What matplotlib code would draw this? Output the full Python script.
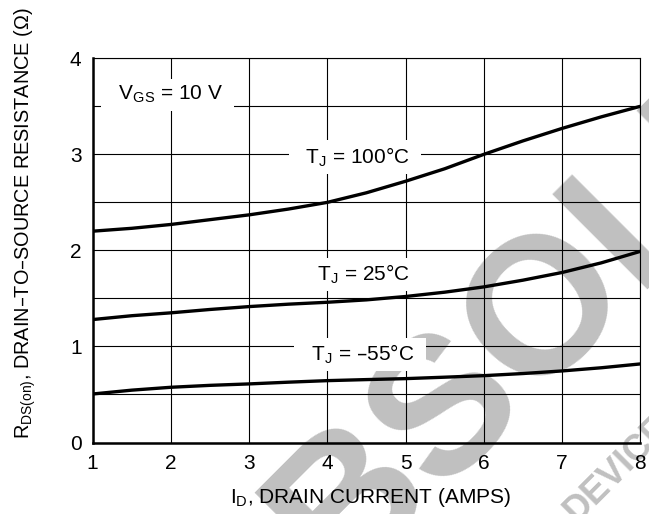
import numpy as np
import matplotlib

matplotlib.use("Agg")
import matplotlib.pyplot as plt
from matplotlib.font_manager import FontProperties
from matplotlib.textpath import TextPath

plt.rcParams['font.family'] = ['Liberation Sans', 'DejaVu Sans']
plt.rcParams['mathtext.default'] = 'regular'

# drain current (A) and on-resistance (ohm)
i_d = [1, 1.5, 2, 2.5, 3, 3.5, 4, 4.5, 5, 5.5, 6, 6.5, 7, 7.5, 8]
r_100c = [2.20, 2.23, 2.27, 2.32, 2.37, 2.43, 2.50, 2.60, 2.72, 2.85, 3.00, 3.14, 3.27, 3.39, 3.50]
r_25c = [1.28, 1.32, 1.35, 1.385, 1.415, 1.44, 1.46, 1.485, 1.52, 1.565, 1.62, 1.69, 1.77, 1.87, 1.99]
r_m55c = [0.505, 0.545, 0.575, 0.595, 0.61, 0.628, 0.644, 0.655, 0.665, 0.68, 0.696, 0.718, 0.745, 0.778, 0.818]

x_ticks = [1, 2, 3, 4, 5, 6, 7, 8]
y_ticks = [0, 1, 2, 3, 4]
y_minor = [0.5, 1.5, 2.5, 3.5]

W, H = 649, 514
fig = plt.figure(figsize=(W / 100, H / 100), dpi=100)
ax = fig.add_axes([0.1428, 0.1391, 0.8438, 0.7475])
ax.patch.set_alpha(0)


def stamp(text, upto, center_px, size, angle=45):
    # place rotated text so that the last glyph of `upto` sits centred on center_px
    prop = FontProperties(family='Liberation Sans', weight='bold')
    em = size * 100 / 72
    ext = TextPath((0, 0), upto, size=em, prop=prop).get_extents()
    g = TextPath((0, 0), upto[-1], size=em, prop=prop).get_extents()
    cx = ext.x1 - g.width / 2 - ext.x0
    cy = (g.y0 + g.y1) / 2
    a = np.radians(angle)
    ox = center_px[0] - cx * np.cos(a) + cy * np.sin(a)
    oy = center_px[1] + cx * np.sin(a) + cy * np.cos(a)
    fig.text(ox / W, 1 - oy / H, text, fontsize=size, fontweight='bold', color='#c0c0c0',
             rotation=angle, ha='left', va='baseline', rotation_mode='anchor', zorder=-1)


# grey stamp across the plot, kept under the grid
stamp("OBSOLETE", "OBSO", (530, 305), 140)
stamp("DEVICE", "DEV", (610, 472), 26)

for r in (r_100c, r_25c, r_m55c):
    ax.plot(i_d, r, color='black', lw=2.4, solid_capstyle='butt', zorder=3)

ax.set_xlim(1, 8)
ax.set_ylim(0, 4)
ax.set_xticks(x_ticks)
ax.set_yticks(y_ticks)
ax.set_yticks(y_minor, minor=True)
ax.grid(True, which='both', color='black', lw=0.8)
ax.set_axisbelow(True)
ax.tick_params(which='both', length=0, pad=8, labelsize=15)

for side in ('left', 'bottom'):
    ax.spines[side].set_linewidth(1.8)
for side in ('top', 'right'):
    ax.spines[side].set_linewidth(0.8)

box = dict(boxstyle='square,pad=0.25', fc='white', ec='none')
ax.text(1.957, 3.62, r"  $V_{GS}$ = 10 V  ", fontsize=15, ha='center', va='center', bbox=box, zorder=2)
ax.text(4.354, 2.97, "  $T_J$ = 100°C  ", fontsize=15, ha='center', va='center', bbox=box, zorder=2)
ax.text(4.43, 1.75, "  $T_J$ = 25°C  ", fontsize=15, ha='center', va='center', bbox=box, zorder=2)
ax.text(4.42, 0.915, "  $T_J$ = \u201355°C  ", fontsize=15, ha='center', va='center', bbox=box, zorder=2)

fig.text(0.5715, 0.033, "$I_D$, DRAIN CURRENT (AMPS)", fontsize=15, ha='center', va='center')
fig.text(0.039, 0.565, "$R_{DS(on)}$, DRAIN\u2013TO\u2013SOURCE RESISTANCE (\u03a9)", fontsize=14.3,
         rotation=90, ha='center', va='center')

fig.savefig("out.png", dpi=100)
